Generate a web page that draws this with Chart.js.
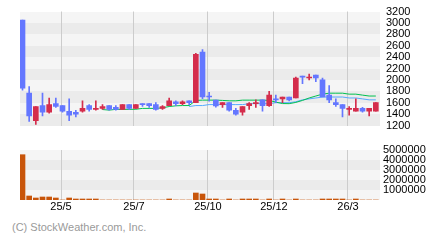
<!DOCTYPE html>
<html lang="ko">
<head>
<meta charset="UTF-8">
<title>Weekly price chart</title>
<script src="https://cdn.jsdelivr.net/npm/chart.js"></script>
<style>
  body { margin: 0; background: #fff; font-family: "Liberation Sans", Arial, sans-serif; }
  #wrap { position: relative; width: 440px; height: 240px; overflow: hidden; }
  #priceChart { position: absolute; left: 0; top: 0; }
  #volChart { position: absolute; left: 0; top: 140px; }
  .credit { position: absolute; left: 12px; top: 221px; font-size: 11px; line-height: 12px; color: #9a9a9a; white-space: nowrap; }
</style>
</head>
<body>
<div id="wrap">
  <canvas id="priceChart" width="440" height="137"></canvas>
  <canvas id="volChart" width="440" height="80"></canvas>
  <div class="credit">(C) StockWeather.com, Inc.</div>
</div>

<script>
// weekly candles
var opens  = [3050,1767,1283,1550,1433,1583,1550,1450,1433,1450,1550,1483,1500,1550,1517,1483,1567,1500,1583,1583,1567,1500,1550,1617,1583,1633,1600,2488,1717,1645,1567,1600,1467,1433,1550,1583,1650,1550,1667,1667,1700,1683,2067,2033,2083,2000,1733,1600,1567,1483,1450,1500,1450,1450];
var closes = [1855,1367,1533,1433,1567,1533,1450,1383,1400,1500,1483,1500,1533,1483,1483,1567,1500,1567,1567,1550,1483,1533,1633,1583,1617,1600,2450,1700,1700,1545,1600,1467,1400,1533,1583,1600,1550,1733,1650,1700,1650,2033,2050,2050,2033,1700,1650,1567,1500,1500,1500,1450,1500,1600];
var highs  = [3050,1883,1533,1767,1683,1683,1550,1667,1467,1633,1567,1633,1567,1550,1550,1567,1567,1567,1583,1583,1600,1550,1683,1633,1633,1633,2467,2533,1783,1645,1600,1600,1500,1533,1600,1650,1650,1800,1733,1700,1700,2050,2067,2100,2083,2033,1900,1667,1567,1533,1667,1517,1500,1600];
var lows   = [1822,1272,1217,1367,1417,1517,1433,1283,1350,1433,1450,1467,1483,1467,1467,1483,1483,1500,1533,1517,1467,1483,1550,1550,1567,1567,1600,1672,1628,1522,1517,1450,1383,1383,1483,1517,1450,1533,1600,1600,1633,1683,1933,2000,1967,1700,1600,1533,1350,1383,1450,1433,1367,1450];

// moving averages (green = short, light blue = long)
var maShort = [null,null,null,null,null,null,null,null,null,null,null,null,1480,1470,1483,1483,1483,1485,1500,1500,1500,1510,1533,1545,1550,1550,1640,1645,1645,1645,1640,1633,1633,1645,1645,1645,1645,1640,1610,1585,1583,1605,1640,1683,1717,1750,1767,1767,1767,1750,1750,1733,1717,1717];
var maLong  = [null,null,null,null,null,null,null,null,null,null,null,null,null,null,null,null,null,null,null,null,null,null,null,null,null,1533,1550,1550,1567,1567,1567,1567,1567,1567,1583,1583,1583,1583,1600,1600,1600,1617,1650,1667,1683,1700,1700,1700,1700,1683,1683,1667,1650,1650];

var volumes = [4530000,400000,200000,300000,300000,200000,0,200000,100000,100000,100000,100000,0,0,0,0,0,0,0,0,0,0,100000,0,0,0,700000,600000,100000,100000,0,100000,0,100000,100000,100000,0,100000,0,100000,0,100000,0,0,0,100000,100000,100000,100000,0,100000,0,0,0];

// month labels and where they fall (in candle index units)
var xLabels = ["25/5", "25/7", "25/10", "25/12", "26/3"];
var xTickPos = [5.78, 16.72, 27.82, 37.72, 48.82];

var UP = "#d42d4c", DOWN = "#6477ff";
var font = { family: "Liberation Sans", size: 11, lineHeight: 1 };

var candleColors = opens.map(function(o, i) { return closes[i] >= opens[i] ? UP : DOWN; });
var bodies = opens.map(function(o, i) { return { x: i, y: [o, closes[i]] }; });
var wicks = lows.map(function(l, i) { return { x: i, y: [l, highs[i]] }; });
var shortPts = maShort.map(function(v, i) { return { x: i, y: v }; });
var longPts = maLong.map(function(v, i) { return { x: i, y: v }; });
var volPts = volumes.map(function(v, i) { return { x: i, y: v }; });

var xMin = -0.375, xMax = opens.length - 0.375;

// alternating grey bands behind the plot
var bandPlugin = {
  id: "bands",
  beforeDraw: function(chart) {
    var ctx = chart.ctx, area = chart.chartArea, ys = chart.scales.y;
    var t = ys.ticks, n = t.length;
    ctx.save();
    for (var i = 0; i < n - 1; i++) {
      var y1 = Math.round(ys.getPixelForValue(t[i + 1].value));
      var y2 = Math.round(ys.getPixelForValue(t[i].value));
      var j = n - 2 - i;
      ctx.fillStyle = (j % 2 === 0) ? "#f5f5f5" : "#ebebeb";
      ctx.fillRect(area.left, y1, area.right - area.left, y2 - y1);
    }
    ctx.restore();
  }
};

function xAxis(showLabels) {
  return {
    type: "linear", min: xMin, max: xMax, offset: false,
    afterBuildTicks: function(s) { s.ticks = xTickPos.map(function(v) { return { value: v }; }); },
    grid: { color: "#cccccc", drawTicks: false, offset: false },
    border: { display: false },
    ticks: {
      display: showLabels, autoSkip: false, maxRotation: 0, padding: 0,
      color: "#000", font: { family: "Liberation Sans", size: 11 },
      callback: function(v, idx) { return xLabels[idx]; }
    },
    afterFit: function(s) { s.height = showLabels ? 16 : 0; }
  };
}

new Chart(document.getElementById("priceChart"), {
  type: "bar",
  data: {
    datasets: [
      { data: bodies, backgroundColor: candleColors, barThickness: 5, minBarLength: 1, grouped: false, order: 0 },
      { data: wicks, backgroundColor: candleColors, barThickness: 1, grouped: false, order: 1 },
      { type: "line", data: shortPts, borderColor: "#00c050", borderWidth: 1, pointRadius: 0, order: 2 },
      { type: "line", data: longPts, borderColor: "#55aaff", borderWidth: 1, pointRadius: 0, order: 3 }
    ]
  },
  options: {
    responsive: false, animation: false,
    layout: { padding: { left: 20, top: 10, right: 0, bottom: 7 } },
    plugins: { legend: { display: false }, tooltip: { enabled: false } },
    scales: {
      x: xAxis(false),
      y: {
        position: "right", min: 1200, max: 3200,
        ticks: {
          stepSize: 200, autoSkip: false, color: "#000", padding: 6, font: font,
          callback: function(v) { return String(v); }
        },
        grid: { display: false, drawTicks: false },
        border: { display: false },
        afterFit: function(s) { s.width = 60; }
      }
    }
  },
  plugins: [bandPlugin]
});

new Chart(document.getElementById("volChart"), {
  type: "bar",
  data: {
    datasets: [
      { data: volPts, backgroundColor: "#c8550a", barThickness: 5, grouped: false }
    ]
  },
  options: {
    responsive: false, animation: false,
    layout: { padding: { left: 20, top: 10, right: 0, bottom: 4 } },
    plugins: { legend: { display: false }, tooltip: { enabled: false } },
    scales: {
      x: xAxis(true),
      y: {
        position: "right", min: 0, max: 5000000,
        ticks: {
          stepSize: 1000000, autoSkip: false, color: "#000", padding: 3, font: font,
          callback: function(v) { return v === 0 ? "" : String(v); }
        },
        grid: { display: false, drawTicks: false },
        border: { display: false },
        afterFit: function(s) { s.width = 60; }
      }
    }
  },
  plugins: [bandPlugin]
});
</script>
</body>
</html>
